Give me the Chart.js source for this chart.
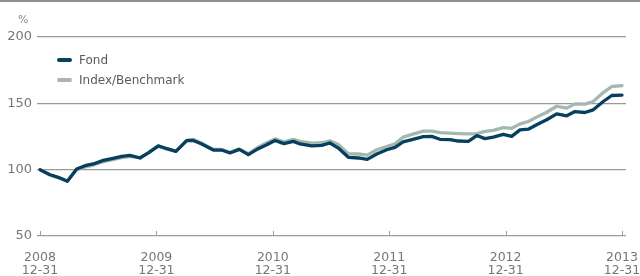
<!DOCTYPE html>
<html>
<head>
<meta charset="utf-8">
<script src="https://cdn.jsdelivr.net/npm/chart.js@4.4.1/dist/chart.umd.min.js"></script>
<style>
  html, body { margin: 0; padding: 0; background: #fff; }
  #wrap { position: relative; width: 640px; height: 276px; overflow: hidden;
    font-family: "DejaVu Sans", sans-serif; }
  #chart { position: absolute; left: 0; top: 0; width: 640px; height: 276px; }
  #topline { position: absolute; left: 0; top: 0; width: 640px; height: 2px; background: #8e8e8e; }
  #pct { position: absolute; left: 18px; top: 13px; font-size: 11px; color: #8a8a8a; }
  #legend { position: absolute; left: 57px; top: 50px; font-size: 12px; color: #5a5a5a; }
  #legend .item { height: 20px; display: flex; align-items: center; }
  #legend .swatch { width: 15px; height: 4px; border-radius: 2px; margin-right: 7px; }
</style>
</head>
<body>
<div id="wrap">
  <div id="chart"><canvas id="c"></canvas></div>
  <div id="topline"></div>
  <div id="pct">%</div>
  <div id="legend"></div>
</div>
<script>
"use strict";
const $ = (id) => document.getElementById(id);

// x position of each observation, in years (2008.0 = 2008-12-31)
const DATES = [
  2008.000, 2008.086, 2008.157, 2008.235, 2008.315, 2008.387, 2008.458, 2008.544,
  2008.627, 2008.702, 2008.773, 2008.859, 2008.930, 2009.016, 2009.091, 2009.168,
  2009.260, 2009.317, 2009.389, 2009.489, 2009.561, 2009.632, 2009.712, 2009.790,
  2009.875, 2009.948, 2010.019, 2010.096, 2010.176, 2010.234, 2010.334, 2010.420,
  2010.491, 2010.563, 2010.649, 2010.735, 2010.812, 2010.893, 2010.979, 2011.050,
  2011.119, 2011.196, 2011.293, 2011.365, 2011.436, 2011.522, 2011.594, 2011.680,
  2011.752, 2011.823, 2011.894, 2011.980, 2012.052, 2012.124, 2012.195, 2012.267,
  2012.353, 2012.439, 2012.525, 2012.596, 2012.682, 2012.753, 2012.839, 2012.912,
  2013.000,
];
const FOND = [
  100, 96.2, 94.2, 91.2, 100.5, 103, 104.3, 107,
  108.5, 110, 110.8, 108.8, 112.6, 118, 115.8, 113.8,
  121.9, 122, 119.4, 114.8, 114.8, 112.6, 115.3, 111.3,
  115.8, 118.8, 122, 119.6, 121.3, 119.4, 118, 118.3,
  120.1, 116.3, 109.3, 108.8, 107.8, 111.8, 115, 116.8,
  121, 122.7, 124.9, 125.1, 122.9, 122.6, 121.6, 121.4,
  125.7, 123.4, 124.6, 126.6, 125.1, 130, 130.5, 133.8,
  137.6, 142.1, 140.6, 143.8, 143.1, 145.1, 151.4, 155.9,
  156.2,
];
const BENCH = [
  100, 96, 94, 91.5, 100, 102, 103.5, 106,
  107.5, 109, 110, 109, 112.5, 117.5, 115.5, 114,
  122, 122.8, 120, 115.2, 115.2, 113, 115.5, 112,
  117, 120.3, 123.2, 121, 122.8, 121.3, 120, 120.3,
  121.8, 119, 112, 111.8, 111, 115, 117.5, 119.5,
  124.5, 126.6, 129, 129.1, 127.9, 127.5, 127.2, 127,
  127.2, 128.8, 129.6, 131.7, 131.2, 134.5, 136.3, 139.6,
  143.3, 147.8, 146.4, 149.6, 149.4, 151.4, 158.1, 162.7,
  163.4,
];
const SERIES = ["Fond", "Index/Benchmark"];
const YEARS = [2008, 2009, 2010, 2011, 2012, 2013];
const DAY_LABEL = "12-31";
const Y_TICKS = [50, 100, 150, 200];

const COLORS = { Fond: "#073f5e", "Index/Benchmark": "#a4b8b2" };
const GRID = "#9a9a9a";
const TEXT = "#767676";
const FONT = "'DejaVu Sans', sans-serif";

// year tick marks pointing up into the plot, and two-line date labels below
const yearAxis = {
  id: "yearAxis",
  afterDraw(chart) {
    const { ctx, chartArea } = chart;
    const x = chart.scales.x;
    ctx.save();
    ctx.strokeStyle = GRID;
    ctx.lineWidth = 1;
    ctx.fillStyle = TEXT;
    ctx.font = `12.5px ${FONT}`;
    ctx.textAlign = "center";
    ctx.textBaseline = "alphabetic";
    for (const v of YEARS) {
      const px = x.getPixelForValue(v);
      const sx = Math.round(px) + 0.5;
      ctx.beginPath();
      ctx.moveTo(sx, chartArea.bottom);
      ctx.lineTo(sx, chartArea.bottom - 5);
      ctx.stroke();
      ctx.fillText(String(v), px, chartArea.bottom + 25);
      ctx.fillText(DAY_LABEL, px, chartArea.bottom + 38);
    }
    ctx.restore();
  },
};

const datasets = [FOND, BENCH].map((vals, i) => ({
  label: SERIES[i],
  data: vals.map((v, j) => ({ x: DATES[j], y: v })),
  borderColor: COLORS[SERIES[i]],
  borderWidth: 3.3,
  pointRadius: 0,
  tension: 0,
  borderJoinStyle: "round",
  borderCapStyle: "round",
}));

new Chart($("c"), {
  type: "line",
  data: { datasets },
  plugins: [yearAxis],
  options: {
    responsive: true,
    maintainAspectRatio: false,
    animation: false,
    parsing: false,
    layout: { padding: { top: 37, right: 14, bottom: 0, left: 0 } },
    plugins: { legend: { display: false }, tooltip: { enabled: false } },
    scales: {
      x: {
        type: "linear",
        min: 2008 - 3 / 116.4,
        max: 2013 + 4 / 116.4,
        afterBuildTicks: (s) => { s.ticks = YEARS.map((v) => ({ value: v })); },
        afterFit: (s) => { s.height = 40; s.paddingLeft = 0; s.paddingRight = 0; },
        grid: { display: false },
        border: { display: false },
        ticks: { display: false },
      },
      y: {
        min: 50, max: 200,
        afterBuildTicks: (s) => { s.ticks = Y_TICKS.map((v) => ({ value: v })); },
        afterFit: (s) => { s.width = 37; s.paddingTop = 0; s.paddingBottom = 0; },
        grid: { color: GRID, lineWidth: 1.3, drawTicks: false },
        border: { display: false },
        ticks: { padding: 5, color: TEXT, font: { family: FONT, size: 13 } },
      },
    },
  },
});

// legend
const legend = $("legend");
for (const name of SERIES) {
  const item = document.createElement("div");
  item.className = "item";
  item.innerHTML = `<span class="swatch" style="background:${COLORS[name]}"></span><span>${name}</span>`;
  legend.appendChild(item);
}
</script>
</body>
</html>
